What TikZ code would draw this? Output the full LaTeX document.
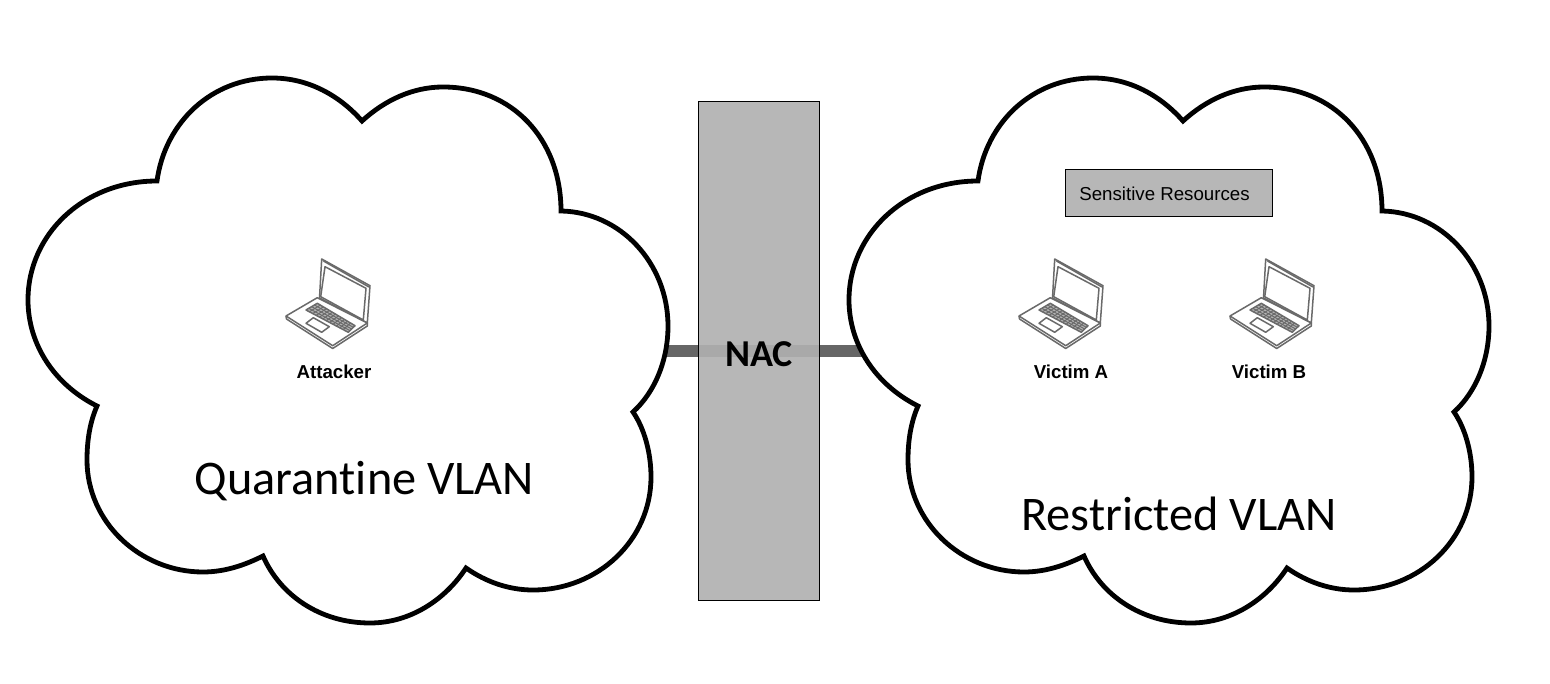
\documentclass[tikz,border=0pt]{standalone}
\usepackage{fontspec}
\setmainfont{Liberation Sans}
\newfontfamily\calib[Ligatures=NoCommon,Contextuals=NoAlternate]{Carlito}
\tikzset{
  cloudline/.style={draw=black,line width=4.8pt,fill=white,line join=miter},
  link/.style={draw=linkgray,line width=12pt},
  nacbox/.style={draw=black,line width=0.9pt,fill=nacfill,fill opacity=0.91,minimum width=121pt,minimum height=499pt,inner sep=0pt},
  resbox/.style={draw=black,line width=0.9pt,fill=boxgray,minimum width=207pt,minimum height=47pt,inner sep=0pt},
  hostlabel/.style={font=\bfseries\fontsize{18.7}{20}\selectfont,inner sep=0pt},
  reslabel/.style={font=\fontsize{18.7}{20}\selectfont,inner sep=0pt},
  vlanlabel/.style={font=\calib\fontsize{48.3}{50}\selectfont,inner sep=0pt},
  naclabel/.style={font=\calib\bfseries\fontsize{38}{40}\selectfont,inner sep=0pt},
  lap/.style={draw=lapgray,line width=1.5pt,line join=round},
  lapthin/.style={draw=lapgray,line width=1pt},
  pics/cloudicon/.style={code={
    \path[cloudline] (157,181)
      .. controls (165,122) and (212,78) .. (272,78)
      .. controls (309,78) and (340,96) .. (362,121)
      .. controls (385,100) and (413,87) .. (443,87)
      .. controls (512,87) and (561,139) .. (561,211)
      .. controls (620,212) and (668,263) .. (668,326)
      .. controls (668,360) and (655,392) .. (633,412)
      .. controls (644,428) and (651,452) .. (651,477)
      .. controls (651,540) and (598,590) .. (533,590)
      .. controls (509,590) and (486,582) .. (466,568)
      .. controls (445,600) and (410,623) .. (370,623)
      .. controls (320,623) and (280,595) .. (263,556)
      .. controls (245,565) and (225,572) .. (203,572)
      .. controls (140,572) and (87,522) .. (87,460)
      .. controls (87,440) and (90,422) .. (97,406)
      .. controls (55,385) and (28,345) .. (28,300)
      .. controls (28,234) and (84,181) .. (157,181) -- cycle;
  }},
  pics/laptopicon/.style={code={
    % lid
    \path[lap,fill=white] (321.7,259) -- (370,285.7) -- (367.3,323) -- (319.5,298) -- cycle;
    \path[lap] (325,266.7) -- (366,288.3) -- (363.3,320) -- (320.7,296.7) -- cycle;
    \path[lap] (323.5,261) -- (369,287);
    % base
    \path[lap,fill=white] (317.3,297.7) -- (367.3,323) -- (332.7,345.7) -- (286,316) -- cycle;
    \path[lap] (286,316) -- (286.5,319) -- (332.7,348.5) -- (367.3,326) -- (367.3,323);
    % keyboard
    \path[lap,fill=keygray] (317.3,303.3) -- (355,325.7) -- (348.3,332.3) -- (306,310) -- cycle;
    \foreach \t in {0.25,0.5,0.75}
      \path[lapthin] ($(317.3,303.3)!\t!(306,310)$) -- ($(355,325.7)!\t!(348.3,332.3)$);
    \foreach \t in {0.08,0.16,...,0.95}
      \path[lapthin] ($(317.3,303.3)!\t!(355,325.7)$) -- ($(306,310)!\t!(348.3,332.3)$);
    % touchpad
    \path[lap] (313.3,317.7) -- (329.3,326.7) -- (321.7,332.3) -- (306,323.3) -- cycle;
  }}
}
\definecolor{linkgray}{HTML}{666666}
\definecolor{nacfill}{HTML}{B0B0B0}
\definecolor{boxgray}{HTML}{B7B7B7}
\definecolor{lapgray}{HTML}{6A6A6A}
\definecolor{keygray}{HTML}{B5B5B5}
\usetikzlibrary{calc}
\begin{document}
\begin{tikzpicture}[x=1pt,y=-1pt]
  \path[use as bounding box,fill=white] (0,0) rectangle (1550,684);
  \coordinate (quarantineedge) at (660,351);
  \coordinate (restrictededge) at (862,351);
  \draw[link] (quarantineedge) -- (restrictededge);
  \pic (quarantine) at (0,0) {cloudicon};
  \pic (restricted) at (821,0) {cloudicon};
  \node[nacbox,text opacity=1] (nac) at (758.5,350.5) {};
  \node[naclabel] (naclbl) at (759,354) {NAC};
  \node[resbox] (res) at (1168.5,192.5) {};
  \node[reslabel] (reslbl) at (1164.5,194) {Sensitive Resources};
  \pic (attackerpc) at (0,0) {laptopicon};
  \pic (victimapc) at (733,0) {laptopicon};
  \pic (victimbpc) at (944,0) {laptopicon};
  \node[hostlabel] (attacker) at (334,372) {Attacker};
  \node[hostlabel] (victima) at (1071,372) {Victim A};
  \node[hostlabel] (victimb) at (1269,372) {Victim B};
  \node[vlanlabel] (qvlan) at (364.5,481.5) {Quarantine VLAN};
  \node[vlanlabel] (rvlan) at (1179,514) {Restricted VLAN};
\end{tikzpicture}
\end{document}
